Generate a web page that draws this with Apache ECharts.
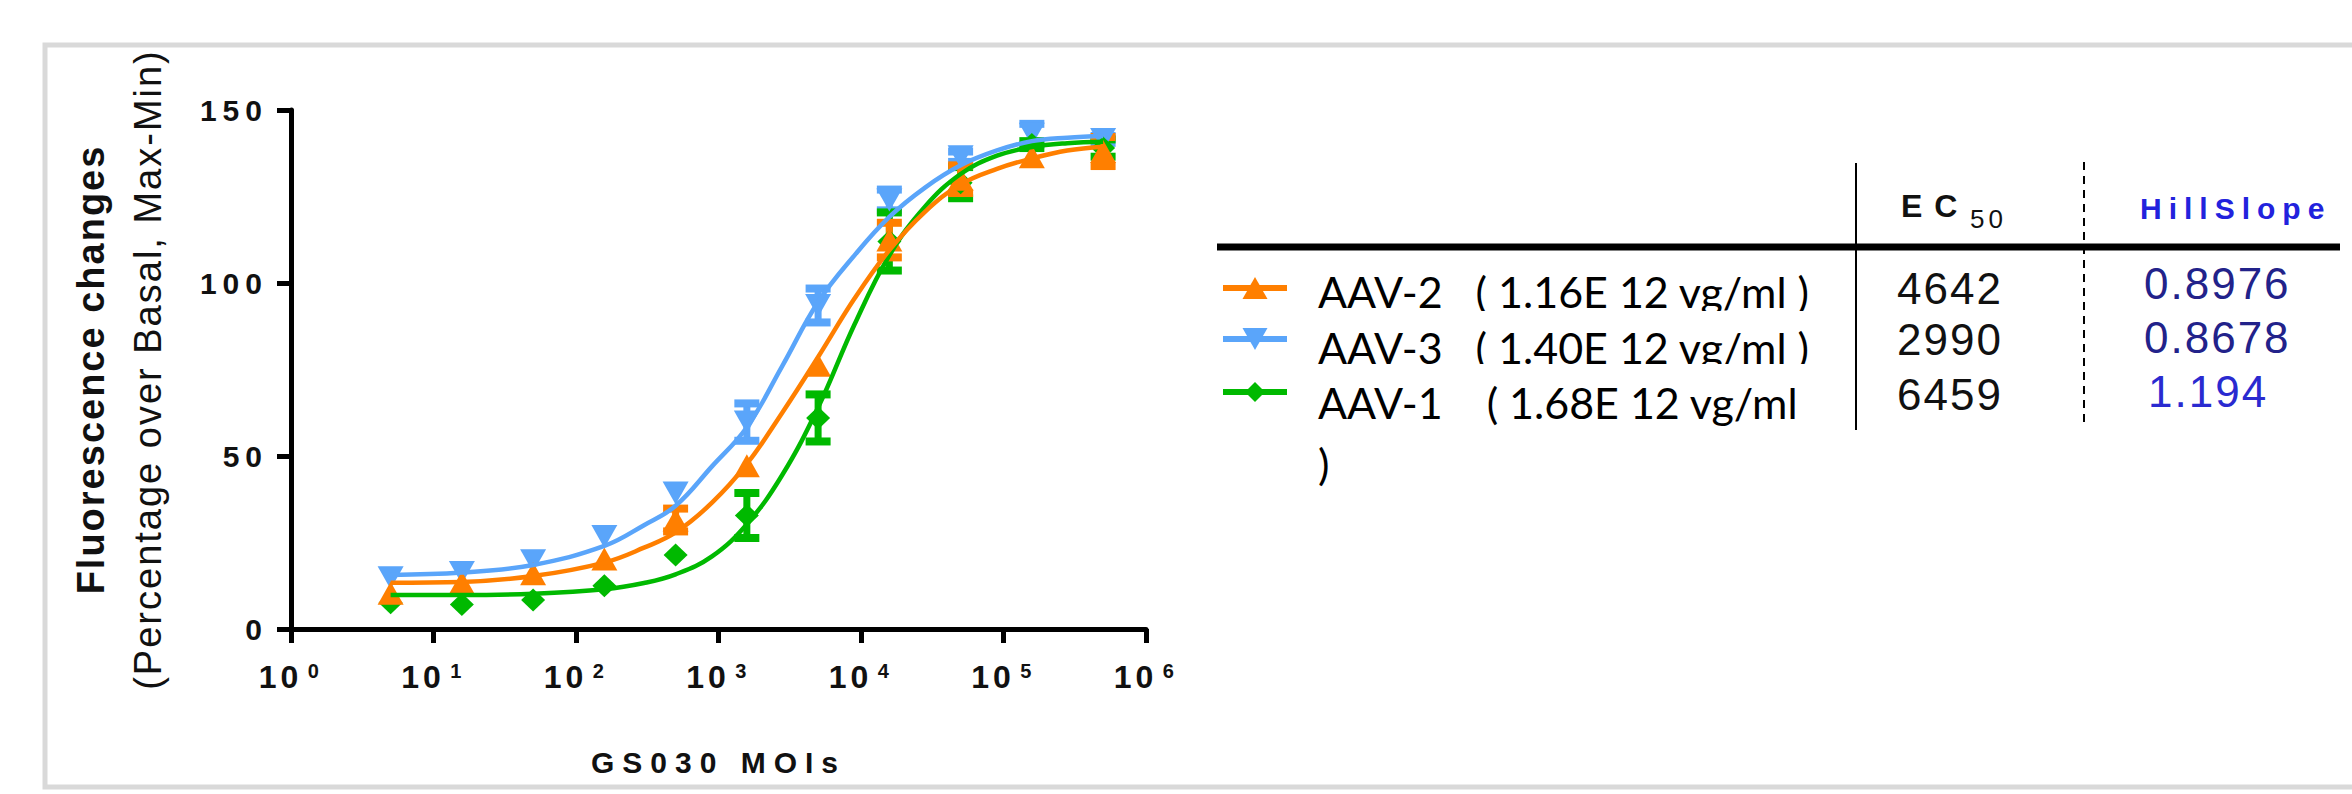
<!DOCTYPE html>
<html>
<head>
<meta charset="utf-8">
<script src="https://cdn.jsdelivr.net/npm/echarts@6/dist/echarts.min.js"></script>
<style>
html,body{margin:0;padding:0;background:#fff;}
#chart{width:2352px;height:794px;}
svg text{white-space:pre;}
text[style*="LSa"]{letter-spacing:1px;}
text[style*="LSb"]{letter-spacing:2px;}
text[style*="LSc"]{letter-spacing:4px;}
text[style*="LSd"]{letter-spacing:6px;}
text[style*="LSe"]{letter-spacing:7px;}
text[style*="LSf"]{letter-spacing:8px;}
text[style*="LSg"]{letter-spacing:12px;}
</style>
</head>
<body>
<div id="chart"></div>
<script>
// ---- data ----
const moi = [5, 15.81, 50, 158.1, 500, 1581, 5000, 15811, 50000, 158114, 500000];

const aav2Mean = [10.3, 13.4, 16.0, 20.2, 31.5, 47.2, 76.2, 112.4, 130.0, 136.5, 138.0];
const aav2Err  = [0, 0, 0, 0, 3.3, 0, 0, 5.0, 4.0, 0, 4.2];
const aav3Mean = [14.8, 16.3, 19.7, 26.7, 39.3, 59.8, 93.5, 124.0, 136.5, 143.0, 141.5];
const aav3Err  = [0, 0, 0, 0, 0, 5.4, 4.9, 3.0, 1.5, 3.0, 1.0];
const aav1Mean = [7.6, 7.1, 8.4, 12.5, 21.4, 32.8, 61.0, 112.0, 129.0, 140.0, 139.0];
const aav1Err  = [0, 0, 0, 0, 0, 6.5, 6.8, 8.4, 4.5, 1.0, 2.5];

const fitMoi  = [5, 15.81, 50, 158.1, 300, 500, 900, 1581, 2800, 5000, 9000, 15811, 28000, 50000, 90000, 158114, 280000, 500000];
const aav2Fit = [13.4, 13.6, 15.3, 19.2, 23.5, 27.9, 36.5, 47.7, 62.5, 78.6, 95.5, 109.5, 120.5, 128.5, 133.0, 136.0, 138.3, 139.4];
const aav3Fit = [15.6, 16.3, 18.5, 24.0, 30.0, 35.6, 47.0, 58.3, 76.0, 94.5, 108.0, 119.1, 127.5, 134.0, 138.3, 141.0, 142.0, 142.5];
const aav1Fit = [9.8, 9.8, 10.2, 11.5, 13.3, 15.8, 21.0, 30.3, 44.5, 64.0, 88.0, 108.0, 122.0, 131.5, 136.8, 139.3, 140.4, 140.8];

const seriesNames = ['AAV-2', 'AAV-3', 'AAV-1'];
const legendLabels = ['AAV-2   ( 1.16E 12 vg/ml )', 'AAV-3   ( 1.40E 12 vg/ml )', 'AAV-1    ( 1.68E 12 vg/ml\n)'];
const ec50Values = ['4642', '2990', '6459'];
const hillSlopeValues = ['0.8976', '0.8678', '1.194'];
const xTickExponents = ['0', '1', '2', '3', '4', '5', '6'];
const yTickValues = [0, 50, 100, 150];

// ---- styles ----
const C_ORANGE = '#FF7F00', C_BLUE = '#5AA5FA', C_GREEN = '#00B900';
const SP = (tag) => tag + ', Liberation Sans, Arial, sans-serif';

function pts(xs, ys) { return xs.map((x, i) => [x, ys[i]]); }
function errs(mean, err) {
  return moi.map((x, i) => [x, mean[i] - err[i], mean[i] + err[i], err[i]]).filter(d => d[3] > 0);
}
function errSeries(name, mean, err, color) {
  return {
    name: name, type: 'custom', data: errs(mean, err), encode: { x: 0, y: [1, 2] },
    renderItem: function (params, api) {
      const x = api.value(0), lo = api.value(1), hi = api.value(2);
      const a = api.coord([x, hi]), b = api.coord([x, lo]);
      const w = 25, t = 8, s = 7;
      return { type: 'group', children: [
        { type: 'rect', shape: { x: a[0] - s / 2, y: a[1], width: s, height: b[1] - a[1] }, style: { fill: color } },
        { type: 'rect', shape: { x: a[0] - w / 2, y: a[1] - t / 2, width: w, height: t }, style: { fill: color } },
        { type: 'rect', shape: { x: b[0] - w / 2, y: b[1] - t / 2, width: w, height: t }, style: { fill: color } }
      ]};
    }
  };
}
function fitSeries(name, ys, color) {
  return { name: name, type: 'line', data: pts(fitMoi, ys), showSymbol: false, smooth: 0.4,
    lineStyle: { color: color, width: 4.5 }, silent: true };
}
function ptSeries(name, ys, color, symbol, rot, size) {
  return { name: name, type: 'scatter', data: pts(moi, ys), symbol: symbol, symbolRotate: rot,
    symbolSize: size, itemStyle: { color: color, opacity: 1 } };
}

const chart = echarts.init(document.getElementById('chart'), null, { renderer: 'svg' });

// legend / statistics table graphics
const g = [];
g.push({ type: 'rect', silent: true, z: -10, shape: { x: 45, y: 45, width: 2400, height: 742 },
  style: { fill: 'none', stroke: '#d9d9d9', lineWidth: 5 } });
g.push({ type: 'line', shape: { x1: 1217, y1: 247, x2: 2340, y2: 247 }, style: { stroke: '#000', lineWidth: 7 } });
g.push({ type: 'line', shape: { x1: 1856, y1: 163, x2: 1856, y2: 430 }, style: { stroke: '#000', lineWidth: 2 } });
g.push({ type: 'line', shape: { x1: 2084, y1: 162, x2: 2084, y2: 427 }, style: { stroke: '#000', lineWidth: 2, lineDash: [8, 6] } });
g.push({ type: 'text', x: 1901, y: 206, style: { text: 'EC', fontSize: 32, fontWeight: 'bold', fontFamily: SP('LSg'), fill: '#111', verticalAlign: 'middle', textVerticalAlign: 'middle' } });
g.push({ type: 'text', x: 1970, y: 219, style: { text: '50', fontSize: 26, fontFamily: SP('LSc'), fill: '#111', verticalAlign: 'middle', textVerticalAlign: 'middle' } });
g.push({ type: 'text', x: 2140, y: 208, style: { text: 'HillSlope', fontSize: 30, fontWeight: 'bold', fontFamily: SP('LSe'), fill: '#2222DD', verticalAlign: 'middle', textVerticalAlign: 'middle' } });

const legendColors = [C_ORANGE, C_BLUE, C_GREEN];
const symY = [288, 339, 392];
const textY = [291, 347, 402];
const ecY = [288, 339, 394];
const hsY = [283, 337, 391];
const hsColors = ['#22228A', '#22228A', '#2A2AD0'];
const shapes = [
  [[0, -11], [12.5, 11], [-12.5, 11]],
  [[-12.5, -11], [12.5, -11], [0, 11]],
  [[0, -10], [10, 0], [0, 10], [-10, 0]]
];
for (let i = 0; i < 3; i++) {
  g.push({ type: 'line', shape: { x1: 1223, y1: symY[i], x2: 1287, y2: symY[i] }, style: { stroke: legendColors[i], lineWidth: 6 } });
  g.push({ type: 'polygon', shape: { points: shapes[i].map(p => [1255 + p[0], symY[i] + p[1]]) }, style: { fill: legendColors[i] } });
  const lines = legendLabels[i].split('\n');
  lines.forEach((ln, k) => {
    g.push({ type: 'text', x: 1318, y: textY[i] + k * 61, style: { text: ln, fontSize: 43, fontFamily: 'Lato, sans-serif', fill: '#000', verticalAlign: 'middle', textVerticalAlign: 'middle' } });
  });
  g.push({ type: 'text', x: 1897, y: ecY[i], style: { text: ec50Values[i], fontSize: 44, fontFamily: SP('LSb'), fill: '#111', verticalAlign: 'middle', textVerticalAlign: 'middle' } });
  g.push({ type: 'text', x: i === 2 ? 2148 : 2144, y: hsY[i], style: { text: hillSlopeValues[i], fontSize: 44, fontFamily: SP('LSb'), fill: hsColors[i], verticalAlign: 'middle', textVerticalAlign: 'middle' } });
}
// clipped bottoms of first two legend text boxes
g.push({ type: 'rect', shape: { x: 1305, y: 311, width: 530, height: 12 }, style: { fill: '#fff' } });
g.push({ type: 'rect', shape: { x: 1305, y: 364, width: 530, height: 13 }, style: { fill: '#fff' } });

const option = {
  animation: false,
  backgroundColor: '#fff',
  graphic: { elements: g },
  grid: { left: 291, top: 110, width: 855, height: 519, containLabel: false },
  xAxis: {
    type: 'log', logBase: 10, min: 1, max: 1e6,
    name: 'GS030 MOIs', nameLocation: 'middle', nameGap: 118,
    nameTextStyle: { fontSize: 30, fontWeight: 'bold', fontFamily: SP('LSf'), color: '#111' },
    axisLine: { show: true, onZero: false, lineStyle: { color: '#000', width: 5 } },
    axisTick: { show: true, inside: false, length: 14, lineStyle: { color: '#000', width: 5 } },
    minorTick: { show: false }, splitLine: { show: false }, minorSplitLine: { show: false },
    axisLabel: {
      margin: 32,
      formatter: function (v) {
        const e = Math.round(Math.log10(v));
        return '{b|10}{s|' + xTickExponents[e] + '}';
      },
      rich: {
        b: { fontSize: 32, fontWeight: 'bold', fontFamily: SP('LSc'), color: '#111' },
        s: { fontSize: 20, fontWeight: 'bold', fontFamily: SP('LSa'), color: '#111', verticalAlign: 'top', padding: [0, 0, 0, 10] }
      }
    }
  },
  yAxis: {
    type: 'value', min: yTickValues[0], max: yTickValues[yTickValues.length - 1], interval: 50,
    name: '{a|Fluorescence changes}\n{b|(Percentage over Basal, Max-Min)}',
    nameLocation: 'middle', nameRotate: 90, nameGap: 115,
    nameTextStyle: {
      rich: {
        a: { fontSize: 38, fontWeight: 'bold', fontFamily: SP('LSb'), color: '#111', lineHeight: 57 },
        b: { fontSize: 38, fontFamily: SP('LSb'), color: '#111', lineHeight: 57 }
      }
    },
    axisLine: { show: true, onZero: false, lineStyle: { color: '#000', width: 5 } },
    axisTick: { show: true, inside: false, length: 14, lineStyle: { color: '#000', width: 5 } },
    splitLine: { show: false },
    axisLabel: { margin: 23, fontSize: 30, fontWeight: 'bold', fontFamily: SP('LSd'), color: '#111' }
  },
  series: [
    fitSeries(seriesNames[1], aav3Fit, C_BLUE),
    errSeries(seriesNames[1], aav3Mean, aav3Err, C_BLUE),
    ptSeries(seriesNames[1], aav3Mean, C_BLUE, 'triangle', 180, [26, 23]),
    fitSeries(seriesNames[2], aav1Fit, C_GREEN),
    errSeries(seriesNames[2], aav1Mean, aav1Err, C_GREEN),
    ptSeries(seriesNames[2], aav1Mean, C_GREEN, 'diamond', 0, [24, 23]),
    fitSeries(seriesNames[0], aav2Fit, C_ORANGE),
    errSeries(seriesNames[0], aav2Mean, aav2Err, C_ORANGE),
    ptSeries(seriesNames[0], aav2Mean, C_ORANGE, 'triangle', 0, [26, 23])
  ]
};
chart.setOption(option);
</script>
</body>
</html>
